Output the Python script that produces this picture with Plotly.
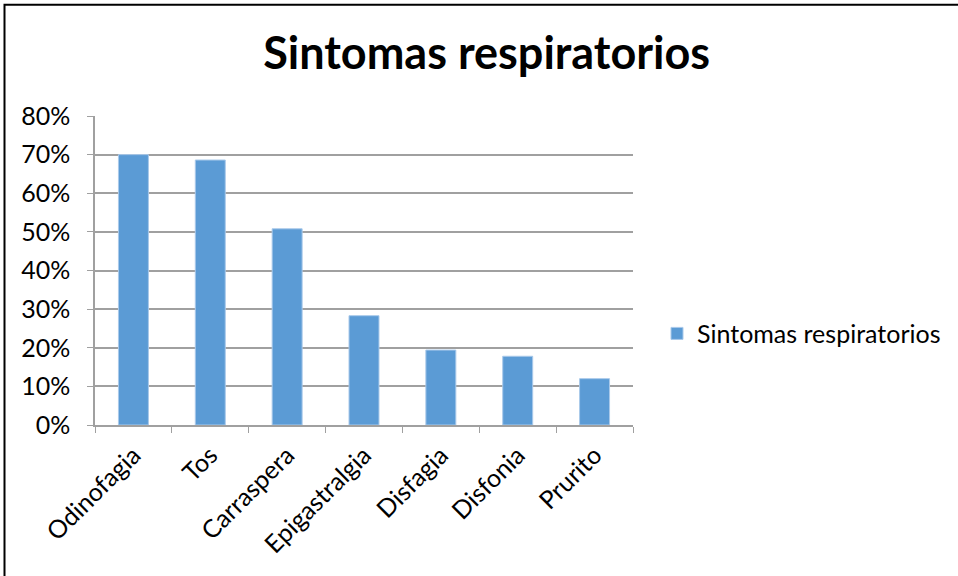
import plotly.graph_objects as go

categories = ["Odinofagia", "Tos", "Carraspera", "Epigastralgia", "Disfagia", "Disfonia", "Prurito"]
values = [0.70, 0.686, 0.508, 0.283, 0.194, 0.178, 0.12]
series_name = "Sintomas respiratorios"
title_text = "Sintomas respiratorios"

W, H = 958, 576
L, R, T, B = 95, 633, 116, 425.5

def px_x(p):
    return (p - L) / (R - L)

def px_y(p):
    return (B - p) / (B - T)

fig = go.Figure()
fig.add_trace(go.Bar(
    x=categories, y=values, name=series_name,
    marker=dict(color="#5B9BD5", line=dict(color="#A9C9EA", width=1)),
    showlegend=True,
))

font_family = "Lato, Open Sans, sans-serif"
fs = 25

fig.update_layout(
    width=W, height=H,
    margin=dict(l=L, r=W - R, t=T, b=H - B, pad=0, autoexpand=False),
    paper_bgcolor="white", plot_bgcolor="white",
    bargap=0.61,
    font=dict(family=font_family, size=fs, color="black"),
    title=dict(text="<b>" + title_text + "</b>", x=0.508, xanchor="center",
               y=1 - 53 / H, yanchor="middle",
               font=dict(size=45, family=font_family, color="black")),
    legend=dict(x=px_x(657), y=px_y(334), xanchor="left", yanchor="middle",
                font=dict(size=fs, family=font_family), itemwidth=30,
                bgcolor="rgba(0,0,0,0)"),
    xaxis=dict(
        type="category", tickangle=-45, ticks="outside", tickson="boundaries",
        ticklen=6, tickcolor="#A0A0A0", showline=True, linecolor="#A0A0A0",
        linewidth=1.5, showgrid=False, tickfont=dict(size=fs),
        ticklabelstandoff=4,
    ),
    yaxis=dict(
        range=[0, 0.8], dtick=0.1, tickformat=".0%", ticks="outside",
        ticklen=6, tickcolor="#A0A0A0", showline=True, linecolor="#A0A0A0",
        linewidth=1.5, showgrid=True, gridcolor="#A0A0A0", gridwidth=1.5,
        zeroline=False, tickfont=dict(size=fs), ticklabelstandoff=12,
    ),
    shapes=[dict(type="rect", xref="paper", yref="paper",
                 x0=px_x(4.5), x1=px_x(990), y0=px_y(4.5), y1=px_y(600),
                 line=dict(color="black", width=2), fillcolor="rgba(0,0,0,0)",
                 layer="below")],
)

fig.write_html("out.html", config={"displayModeBar": False},
               post_script="document.body.style.margin='0';document.body.style.overflow='hidden';")
